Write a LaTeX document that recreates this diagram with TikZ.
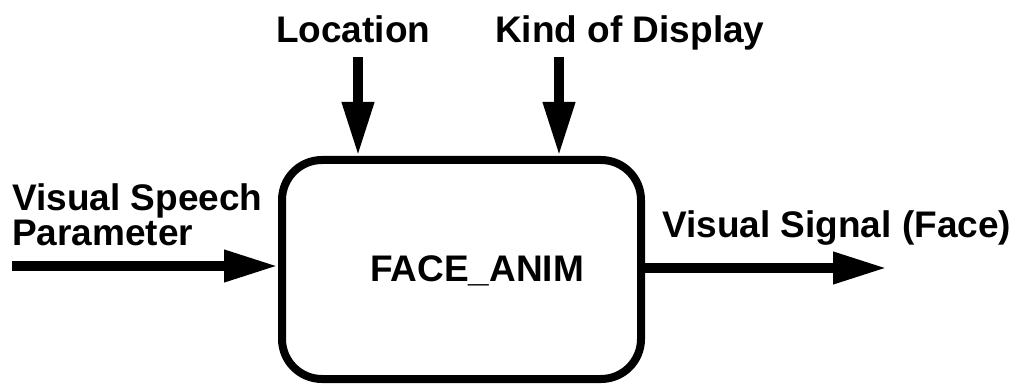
\documentclass[tikz,border=0pt]{standalone}
\usepackage{fontspec}
\setmainfont{Liberation Sans}
\usetikzlibrary{arrows.meta}
\begin{document}
\begin{tikzpicture}[x=1pt,y=-1pt,
  label/.style={inner sep=0pt, anchor=base west, font=\fontsize{37}{35}\selectfont\bfseries},
  flow/.style={line width=10pt, -{Triangle[length=54pt,width=30pt]}},
  block/.style={draw, line width=8pt, rounded corners=40pt, minimum width=359pt,
    minimum height=219pt, inner sep=0pt}]
  \useasboundingbox (0,0) rectangle (1015,385);

  % the processing block
  \node[block] (box) at (461.5,269.5) {};
  \node[label] (name) at (370,281) {FACE\_ANIM};

  % control inputs from above
  \node[label] (loc) at (276,43) {Location};
  \node[label] (kind) at (495,43) {Kind of Display};
  \coordinate (locTail) at (358,57);
  \coordinate (kindTail) at (559,57);
  \draw[flow] (locTail) -- (locTail |- box.north);
  \draw[flow] (kindTail) -- (kindTail |- box.north);

  % data input from the left
  \node[label] (vsp1) at (12,211) {Visual Speech};
  \node[label] (vsp2) at (12,245) {Parameter};
  \coordinate (inTail) at (12,266);
  \draw[flow] (inTail) -- (inTail -| box.west);

  % output to the right
  \node[label] (vsig) at (662,237) {Visual Signal (Face)};
  \coordinate (outTip) at (887,268);
  \draw[flow] (outTip -| box.east) -- (outTip);
\end{tikzpicture}
\end{document}
